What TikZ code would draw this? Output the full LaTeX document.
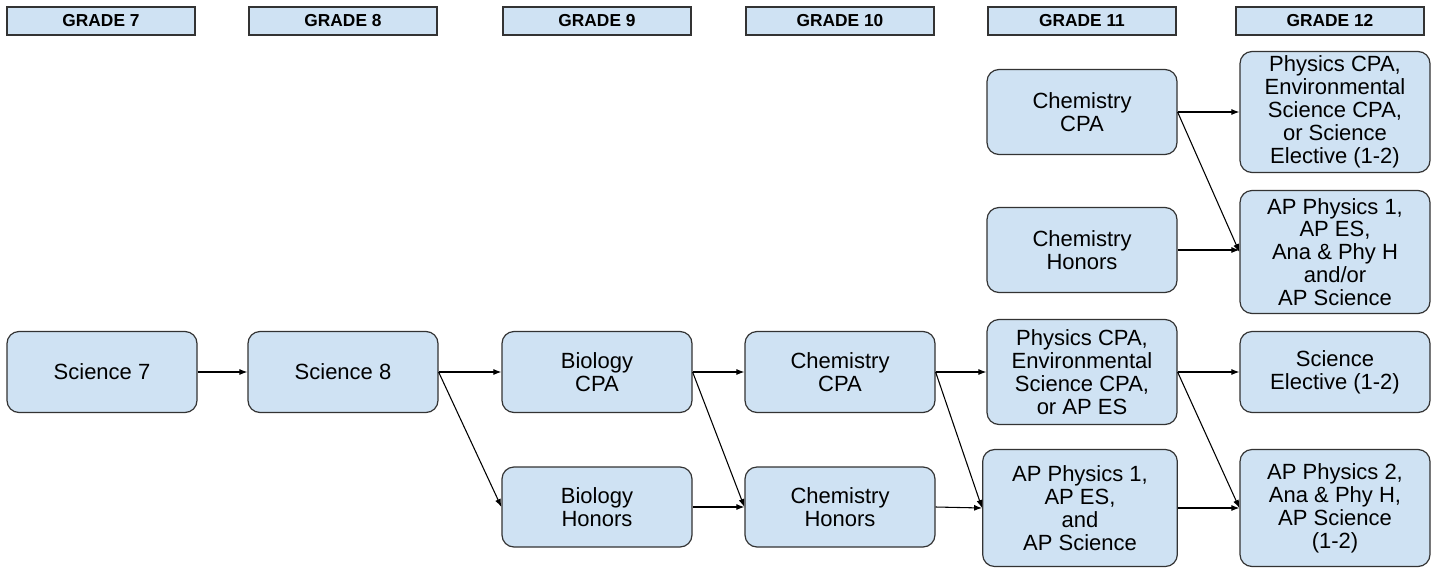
\documentclass[tikz,border=0pt]{standalone}
\usepackage{fontspec}
\setmainfont{Liberation Sans}
\usetikzlibrary{arrows.meta}
\definecolor{boxblue}{HTML}{CFE2F3}
\definecolor{boxline}{HTML}{333333}
\tikzset{
  grade/.style={draw=boxline, fill=boxblue, line width=1.3pt, minimum width=141pt,
    minimum height=21pt, inner sep=0pt, font=\fontsize{13}{14}\selectfont\bfseries},
  course/.style={draw=boxline, fill=boxblue, rounded corners=9pt, line width=0.9pt,
    minimum width=142.5pt, align=center, inner xsep=2pt, inner ysep=1pt,
    font=\fontsize{16.5}{17.2}\selectfont},
}
\begin{document}
\begin{tikzpicture}[x=0.75pt,y=-0.75pt]
      \useasboundingbox (0,0) rectangle (1440,572);
      \draw
        (101,21) node[grade] (g7){GRADE 7}
        (343,21) node[grade] (g8){GRADE 8}
        (597,21) node[grade] (g9){GRADE 9}
        (840,21) node[grade] (g10){GRADE 10}
        (1082,21) node[grade] (g11){GRADE 11}
        (1330,21) node[grade] (g12){GRADE 12};
      \draw
        (102,372) node[course, minimum height=60.75pt] (sci7){Science 7}
        (343,372) node[course, minimum height=60.75pt] (sci8){Science 8}
        (597,372) node[course, minimum height=60.75pt] (bioc){Biology\\CPA}
        (597,507) node[course, minimum height=60pt] (bioh){Biology\\Honors}
        (840,372) node[course, minimum height=60.75pt] (chemc){Chemistry\\CPA}
        (840,507) node[course, minimum height=60pt] (chemh){Chemistry\\Honors}
        (1082,112) node[course, minimum height=63.75pt] (chemcb){Chemistry\\CPA}
        (1082,250) node[course, minimum height=63.75pt] (chemhb){Chemistry\\Honors}
        (1082,372) node[course, minimum height=78.75pt] (physc){Physics CPA,\\Environmental\\Science CPA,\\or AP ES}
        (1080,508) node[course, minimum height=87.75pt, minimum width=146pt] (apone){AP Physics 1,\\AP ES,\\and\\AP Science}
        (1335,112) node[course, minimum height=90.75pt] (physcb){Physics CPA,\\Environmental\\Science CPA,\\or Science\\Elective (1-2)}
        (1335,252) node[course, minimum height=92.25pt] (aponeb){AP Physics 1,\\AP ES,\\Ana \& Phy H\\and/or\\AP Science}
        (1335,372) node[course, minimum height=60.75pt] (elec){Science\\Elective (1-2)}
        (1335,508) node[course, minimum height=87.75pt] (aptwo){AP Physics 2,\\Ana \& Phy H,\\AP Science\\(1-2)};
      \begin{scope}[-{Latex[length=6pt,width=4.5pt]}, line width=0.8pt]
        \draw (sci7) to (sci8);
        \draw (sci8) to (bioc);
        \draw (sci8.east) to (bioh.west);
        \draw (bioc) to (chemc);
        \draw (bioc.east) to (chemh.west);
        \draw (bioh) to (chemh);
        \draw (chemc) to (physc);
        \draw (chemc.east) to (apone.west);
        \draw (chemh.east) to (apone.west);
        \draw (physc) to (elec);
        \draw (physc.east) to (aptwo.west);
        \draw (apone) to (aptwo);
        \draw (chemcb) to (physcb);
        \draw (chemcb.east) to (aponeb.west);
        \draw (chemhb) to (chemhb -| aponeb.west);
      \end{scope}
    \end{tikzpicture}
\end{document}
